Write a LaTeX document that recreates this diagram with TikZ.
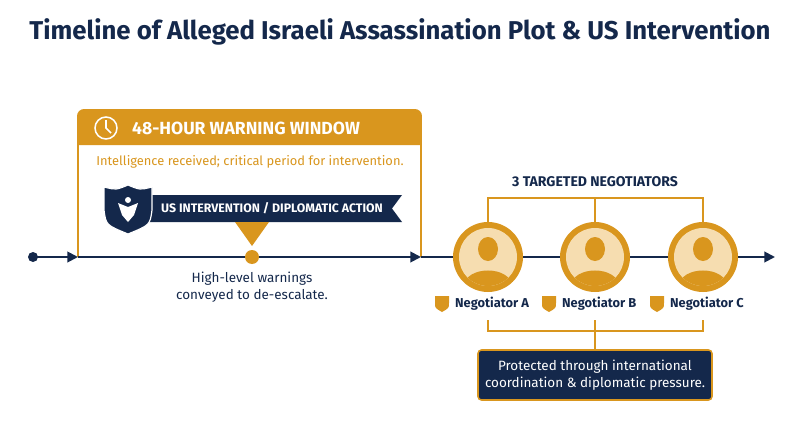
\documentclass[tikz,border=0pt]{standalone}
\usepackage{fontspec}
\setmainfont{Fira Sans}
\usetikzlibrary{arrows.meta,positioning}
\definecolor{navy}{HTML}{14284B}
\definecolor{gold}{HTML}{D9961E}
\definecolor{cream}{HTML}{F6DDB0}
\tikzset{
  px/.style={x=0.03cm,y=-0.03cm},
  tip/.style={-{Triangle[length=9pt,width=9pt]}},
  person/.pic={
    \fill[gold] (0,0) circle (35);
    \fill[cream] (0,0) circle (29);
    \begin{scope}
      \clip (0,0) circle (29);
      \fill[gold] (0,-8) ellipse (10 and 12);
      \fill[gold] (-24,30) .. controls (-24,8) and (24,8) .. (24,30) -- cycle;
    \end{scope}
  },
  badge/.pic={
    \fill[gold] (-7,-7) -- (7,-7) -- (7,0) .. controls (7,5) .. (0,9) .. controls (-7,5) .. (-7,0) -- cycle;
  },
  negname/.style={font=\bfseries\fontsize{11}{13}\selectfont, text=navy, anchor=west}
}
\begin{document}
\begin{tikzpicture}[px]
\useasboundingbox (0,0) rectangle (800,447);
\node[font=\bfseries\fontsize{22}{26}\selectfont, text=navy] (title) at (400,32) {Timeline of Alleged Israeli Assassination Plot \& US Intervention};

% warning window
\draw[gold, line width=1.6pt, fill=white] (78,257) -- (78,116) arc[start angle=180,end angle=270,radius=6] -- (415,110) arc[start angle=270,end angle=360,radius=6] -- (421,257);
\fill[gold] (78,145) -- (78,116) arc[start angle=180,end angle=270,radius=6] -- (415,110) arc[start angle=270,end angle=360,radius=6] -- (421,145) -- cycle;
\draw[white, line width=1.3pt] (106,128) circle (11);
\draw[white, line width=1.3pt] (106,120) -- (106,128) -- (111,133);
\node[font=\bfseries\fontsize{15}{18}\selectfont, text=white, anchor=west] (window) at (128,128) {48-HOUR WARNING WINDOW};
\node[font=\fontsize{11}{13}\selectfont, text=gold] (intel) at (250,162) {Intelligence received; critical period for intervention.};

% banner
\fill[navy] (140,195) -- (402,195) -- (392,208.5) -- (402,222) -- (140,222) -- cycle;
\fill[gold] (235,222) -- (269,222) -- (252,246) -- cycle;
\fill[navy, draw=white, line width=1pt] (128,185) .. controls (140,190) .. (152,187) -- (152,210) .. controls (150,225) .. (128,234) .. controls (106,225) .. (104,210) -- (104,187) .. controls (116,190) .. cycle;
\fill[white] (128,200) circle (3) (118,203) -- (128,207) -- (138,203) -- (134,215) -- (128,222) -- (122,215) -- cycle;
\node[font=\bfseries\fontsize{10.5}{12}\selectfont, text=white] (action) at (272,208.5) {US INTERVENTION / DIPLOMATIC ACTION};

% timeline
\fill[navy] (33,257) circle (5);
\coordinate (start) at (33,257);
\coordinate (a1) at (78,257);
\coordinate (a2) at (421,257);
\coordinate (end) at (775,257);
\draw[navy, line width=1.6pt, tip] (start) -- (a1);
\draw[navy, line width=1.6pt, tip] (a1) -- (a2);
\draw[navy, line width=1.6pt, tip] (a2) -- (end);
\fill[gold] (252,257) circle (7);
\node[font=\fontsize{11.5}{15}\selectfont, text=navy, align=center] (warn) at (252,287) {High-level warnings\\conveyed to de-escalate.};

% negotiators
\node[font=\bfseries\fontsize{12}{14}\selectfont, text=navy] (targets) at (595,182) {3 TARGETED NEGOTIATORS};
\draw[gold, line width=1.3pt] (488,222) -- (488,198) -- (703,198) -- (703,222) (595,198) -- (595,222);
\foreach \x/\l in {488/A,595/B,703/C}{
  \pic at (\x,257) {person};
  \pic at (\x-46,303) {badge};
  \node[negname] (neg\l) at (\x-37,304) {Negotiator \l};
}
\draw[gold, line width=1.3pt] (488,320) -- (488,331) -- (703,331) -- (703,320) (595,320) -- (595,350);
\node[fill=navy, draw=gold, line width=1.3pt, rounded corners=3pt, minimum width=234*0.03cm, minimum height=50*0.03cm, text=white, align=center, font=\fontsize{11.5}{15}\selectfont] (protect) at (595,375) {Protected through international\\coordination \& diplomatic pressure.};
\end{tikzpicture}
\end{document}
